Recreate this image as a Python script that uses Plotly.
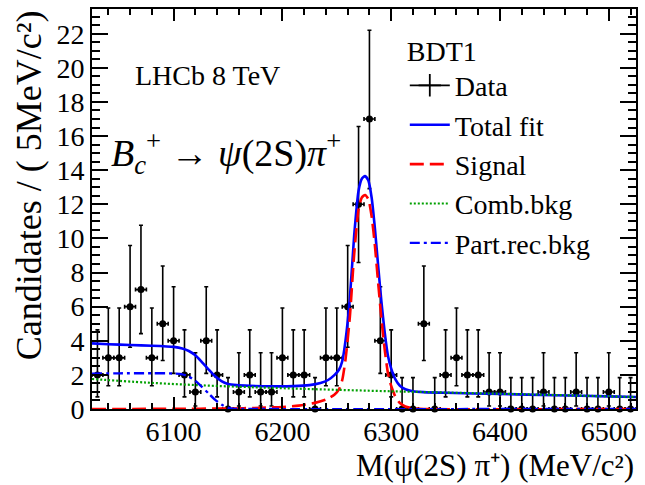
import math
import plotly.graph_objects as go

# ---------------- data ----------------
bin_centers = [6030 + 10 * i for i in range(50)]
counts = [2, 3, 3, 6, 7, 3, 5, 4, 2, 1,
          4, 2, 0, 1, 2, 1, 1, 3, 2, 2,
          0, 3, 3, 6, 12, 17, 4, 2, 0, 0,
          5, 0, 2, 3, 2, 2, 1, 1, 0, 0,
          0, 1, 0, 0, 1, 0, 0, 1, 0, 0]
half_bin = 5

# fit components
tot_x = [6025, 6040, 6060, 6080, 6100, 6108, 6114, 6120, 6126, 6132, 6138, 6144, 6150, 6158, 6170,
         6190, 6210, 6225, 6235, 6242, 6248, 6252, 6255, 6258, 6262, 6266, 6270, 6273, 6276, 6279,
         6282, 6285, 6288, 6291, 6294, 6297, 6300, 6304, 6308, 6313, 6320, 6330, 6350, 6400, 6450,
         6500, 6525]
tot_y = [3.85, 3.8, 3.75, 3.71, 3.64, 3.55, 3.4, 3.15, 2.75, 2.33, 1.93, 1.63, 1.47, 1.4, 1.36,
         1.33, 1.34, 1.4, 1.52, 1.7, 2.0, 2.3, 2.8, 4.0, 6.5, 10.2, 12.8, 13.5, 13.65, 13.4,
         12.4, 10.6, 8.4, 6.3, 4.5, 3.12, 2.37, 1.72, 1.36, 1.16, 1.04, 0.99, 0.95, 0.88, 0.81,
         0.74, 0.7]

sig_x = [6025, 6100, 6150, 6180, 6200, 6215, 6230, 6240, 6248, 6252, 6255, 6258, 6262, 6266, 6270,
         6273, 6276, 6279, 6282, 6285, 6288, 6291, 6294, 6297, 6300, 6304, 6308, 6313, 6320, 6330,
         6525]
sig_y = [0.0, 0.01, 0.03, 0.07, 0.12, 0.2, 0.36, 0.55, 0.85, 1.15, 1.7, 2.9, 5.4, 9.1, 11.7,
         12.4, 12.55, 12.3, 11.3, 9.6, 7.4, 5.3, 3.5, 2.1, 1.35, 0.7, 0.35, 0.15, 0.04, 0.0,
         0.0]

comb_x = [6025, 6075, 6125, 6175, 6225, 6275, 6325, 6375, 6425, 6475, 6525]
comb_y = [1.76, 1.55, 1.39, 1.27, 1.17, 1.08, 1.0, 0.93, 0.86, 0.78, 0.7]

prec_x = [6025, 6050, 6080, 6100, 6108, 6114, 6120, 6126, 6132, 6138, 6144, 6150, 6156, 6165, 6525]
prec_y = [2.07, 2.09, 2.1, 2.08, 2.03, 1.9, 1.65, 1.3, 0.92, 0.55, 0.26, 0.08, 0.01, 0.0, 0.0]

x_tick_vals = [6100, 6200, 6300, 6400, 6500]
y_tick_vals = list(range(0, 23, 2))


# Poisson (Garwood) 68.3% intervals for the data error bars
def pois_cdf(k, mu):
    if k < 0:
        return 0.0
    term = math.exp(-mu)
    s = term
    for i in range(1, k + 1):
        term *= mu / i
        s += term
    return s


def solve(f, lo, hi):
    for _ in range(200):
        mid = 0.5 * (lo + hi)
        if f(mid) > 0:
            lo = mid
        else:
            hi = mid
    return 0.5 * (lo + hi)


alpha = (1 - 0.682689) / 2
err_lo, err_hi = [], []
for n in counts:
    up = solve(lambda mu: pois_cdf(n, mu) - alpha, 0.0, 100.0)
    lo = 0.0 if n == 0 else solve(lambda mu: pois_cdf(n - 1, mu) - (1 - alpha), 0.0, 100.0)
    err_lo.append(n - lo)
    err_hi.append(up - n)

SERIF = "Liberation Serif, Times New Roman, Times, serif"
fig = go.Figure()

fig.add_trace(go.Scatter(
    x=bin_centers, y=counts, mode="markers", name="Data", showlegend=False,
    marker=dict(color="black", size=7),
    error_y=dict(type="data", symmetric=False, array=err_hi, arrayminus=err_lo,
                 color="black", thickness=1.6, width=2),
    error_x=dict(type="constant", value=half_bin, color="black", thickness=1.6, width=2),
    cliponaxis=False))

# legend-only entry for the data (cross-shaped symbol like the error-bar marker)
fig.add_trace(go.Scatter(
    x=[None], y=[None], mode="lines+markers", name="Data",
    line=dict(color="black", width=1.8),
    marker=dict(symbol="cross-thin", size=16, color="black",
                line=dict(color="black", width=1.8)),
    legendrank=1))

fig.add_trace(go.Scatter(x=tot_x, y=tot_y, mode="lines", name="Total fit",
                         line=dict(color="#0000ff", width=2.6, shape="spline", smoothing=0.6),
                         legendrank=2))
fig.add_trace(go.Scatter(x=sig_x, y=sig_y, mode="lines", name="Signal",
                         line=dict(color="#ff0000", width=2.6, dash="14px,6px", shape="spline",
                                   smoothing=0.6),
                         legendrank=3))
fig.add_trace(go.Scatter(x=comb_x, y=comb_y, mode="lines", name="Comb.bkg",
                         line=dict(color="#00a000", width=2.2, dash="2px,2px", shape="spline"),
                         legendrank=4))
fig.add_trace(go.Scatter(x=prec_x, y=prec_y, mode="lines", name="Part.rec.bkg",
                         line=dict(color="#0000ff", width=2.4, dash="10px,4px,3px,4px",
                                   shape="spline", smoothing=0.6),
                         legendrank=5))

axis_common = dict(showline=True, linewidth=2, linecolor="black", mirror="ticks",
                   ticks="inside", tickcolor="black", tickwidth=1.5,
                   showgrid=False, zeroline=False,
                   tickfont=dict(family=SERIF, size=28, color="black"))

fig.update_xaxes(range=[6025, 6525], tickvals=x_tick_vals, ticklen=12,
                 ticklabelstandoff=-4,
                 minor=dict(dtick=20, tick0=6000, ticks="inside", ticklen=6,
                            tickcolor="black", tickwidth=1.5, showgrid=False),
                 **axis_common)
fig.update_yaxes(range=[0, 23.45], tickvals=y_tick_vals, ticklen=16,
                 minor=dict(dtick=0.5, tick0=0, ticks="inside", ticklen=8,
                            tickcolor="black", tickwidth=1.5, showgrid=False),
                 **axis_common)

fig.update_layout(
    width=645, height=485,
    margin=dict(l=92, r=7, t=8, b=76),
    paper_bgcolor="white", plot_bgcolor="white",
    font=dict(family=SERIF, color="black"),
    showlegend=True,
    legend=dict(x=0.575, y=0.962, xanchor="left", yanchor="top",
                bgcolor="rgba(0,0,0,0)",
                font=dict(family=SERIF, size=28, color="black"),
                title=dict(text="BDT1", font=dict(family=SERIF, size=28, color="black")),
                itemwidth=40),
    annotations=[
        dict(text="LHCb 8 TeV", xref="paper", yref="paper", x=0.2125, y=0.833,
             xanchor="center", yanchor="middle", showarrow=False,
             font=dict(family=SERIF, size=28, color="black")),
        dict(text="<i>B</i><sub><i>c</i></sub><sup>+</sup> → <i>ψ</i>(2S)<i>π</i><sup>+</sup>",
             xref="paper", yref="paper", x=0.247, y=0.641,
             xanchor="center", yanchor="middle", showarrow=False,
             font=dict(family=SERIF, size=38, color="black")),
        dict(text="M(ψ(2S) π⁺) (MeV/c²)", xref="paper", yref="paper",
             x=1.0, y=-0.1895, xanchor="right", yanchor="bottom", showarrow=False,
             font=dict(family=SERIF, size=31, color="black")),
        dict(text="Candidates / ( 5MeV/c²)", xref="paper", yref="paper",
             x=-0.1154, y=1.0025, xanchor="center", yanchor="top", textangle=-90,
             showarrow=False, font=dict(family=SERIF, size=36, color="black")),
    ],
)

fig.write_html("out.html")
